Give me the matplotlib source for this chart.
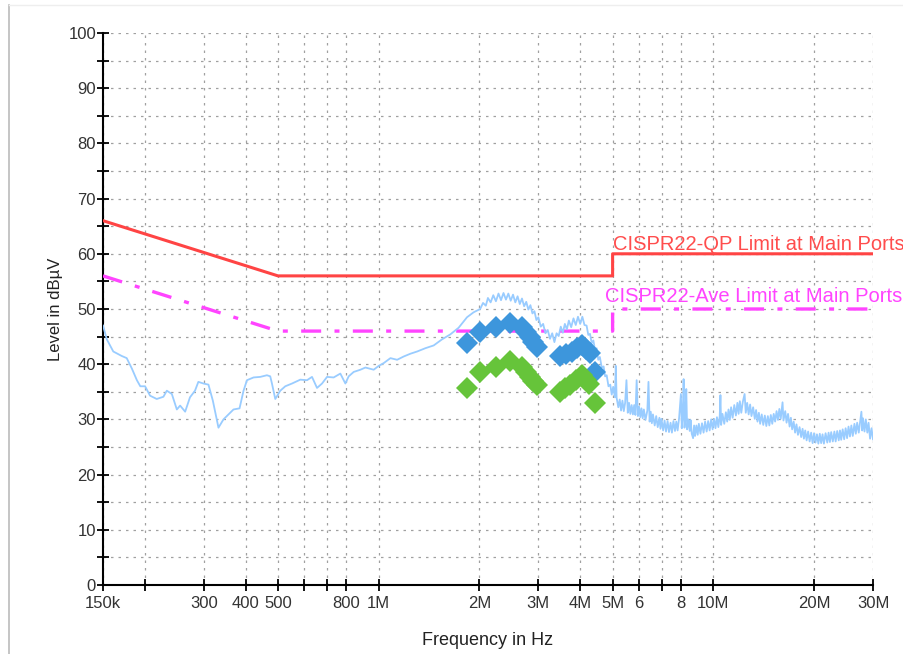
import matplotlib
matplotlib.use('Agg')
import matplotlib.pyplot as plt
from matplotlib.lines import Line2D
from matplotlib.ticker import NullLocator

plt.rcParams['font.family'] = ['Liberation Sans', 'DejaVu Sans']

# limit lines (MHz, dBuV)
qp_limit_freq = [0.15, 0.5, 5.0, 5.0, 30.0]
qp_limit_level = [66, 56, 56, 60, 60]
ave_limit_freq = [0.15, 0.5, 5.0, 5.0, 30.0]
ave_limit_level = [56, 46, 46, 50, 50]

# peak scan trace, (MHz, dBuV)
trace_low = [
    (0.150, 47.0), (0.154, 44.5), (0.161, 42.3), (0.1705, 41.5), (0.1766, 41.1),
    (0.183, 39.2), (0.1894, 37.1), (0.1939, 36.0), (0.2004, 36.0), (0.2073, 34.3),
    (0.2171, 33.7), (0.2273, 34.1), (0.2327, 35.2), (0.2409, 34.6), (0.2493, 31.8),
    (0.255, 32.5), (0.264, 31.4), (0.2729, 34.0), (0.2825, 35.2), (0.2891, 36.8),
    (0.2994, 36.5), (0.3099, 36.3), (0.3194, 33.4), (0.332, 28.5), (0.3436, 30.0),
    (0.3557, 30.9), (0.3682, 31.8), (0.3838, 32.0), (0.3945, 35.2), (0.4039, 37.1),
    (0.4227, 37.6), (0.4426, 37.7), (0.4634, 38.0), (0.4741, 37.8), (0.4797, 36.5),
    (0.4908, 33.7), (0.508, 35.2), (0.5258, 36.0), (0.5507, 36.5), (0.5831, 37.2),
    (0.6106, 37.1), (0.6319, 37.7), (0.6541, 35.7), (0.6771, 36.5), (0.7008, 37.7),
    (0.7335, 37.6), (0.768, 38.3), (0.795, 36.5), (0.8134, 37.8), (0.8419, 38.6),
    (0.8817, 39.0), (0.9126, 39.4), (0.9662, 39.0), (1.0001, 39.7), (1.0352, 40.2),
    (1.084, 41.1), (1.1351, 40.8), (1.1881, 41.4), (1.2441, 41.9), (1.3027, 42.3),
    (1.3791, 42.9), (1.46, 43.4), (1.5459, 44.5), (1.6366, 45.4), (1.733, 46.6),
    (1.8356, 48.5), (1.9209, 49.4),
]
trace_hump = [
    (2.01, 50.0), (2.05, 51.1), (2.09, 50.6), (2.12, 52.0), (2.16, 51.2),
    (2.2, 52.5), (2.24, 51.4), (2.28, 52.8), (2.32, 51.6), (2.36, 52.9),
    (2.4, 51.7), (2.44, 52.8), (2.48, 51.5), (2.52, 52.6), (2.56, 51.2),
    (2.6, 52.3), (2.64, 50.9), (2.68, 51.9), (2.72, 50.5), (2.76, 51.3),
    (2.8, 49.9), (2.84, 50.7), (2.88, 49.2), (2.92, 49.6), (2.96, 48.0),
    (3.0, 48.5), (3.05, 46.8), (3.1, 47.3), (3.15, 45.6), (3.2, 46.2),
    (3.25, 44.6), (3.3, 45.6), (3.35, 44.0), (3.4, 45.6), (3.45, 45.1),
    (3.5, 46.8), (3.55, 45.7), (3.6, 47.3), (3.65, 46.3), (3.7, 47.9),
    (3.76, 46.7), (3.82, 48.3), (3.88, 47.1), (3.94, 48.6), (4.0, 47.3),
    (4.06, 48.6), (4.12, 47.1), (4.18, 47.0), (4.23, 45.3), (4.28, 45.5),
    (4.33, 43.8), (4.38, 44.3), (4.43, 42.6), (4.48, 42.9), (4.53, 40.8),
    (4.58, 41.3), (4.64, 39.4), (4.7, 39.6), (4.75, 37.8), (4.8, 38.0),
    (4.86, 36.0), (4.92, 36.3), (4.97, 34.5), (5.02, 35.9), (5.08, 34.0),
    (5.11, 39.7),
]
trace_high = [
    (5.14, 33.9), (5.2, 32.2), (5.25, 33.6), (5.3, 31.6), (5.35, 33.4),
    (5.4, 31.5), (5.45, 33.0), (5.5, 37.1), (5.55, 31.2), (5.6, 33.0),
    (5.65, 31.0), (5.7, 32.6), (5.75, 30.9), (5.8, 32.6), (5.85, 30.8),
    (5.9, 37.1), (5.95, 30.6), (6.0, 32.3), (6.05, 30.4), (6.1, 32.0),
    (6.15, 30.2), (6.2, 31.8), (6.27, 29.9), (6.35, 31.6), (6.4, 36.8),
    (6.45, 29.6), (6.5, 31.4), (6.55, 29.3), (6.6, 30.9), (6.68, 28.9),
    (6.75, 30.6), (6.82, 28.6), (6.9, 30.3), (6.95, 28.3), (7.0, 30.1),
    (7.08, 28.0), (7.15, 29.8), (7.22, 27.8), (7.3, 29.7), (7.37, 27.7),
    (7.45, 29.4), (7.52, 27.6), (7.6, 29.7), (7.68, 27.9), (7.75, 29.6),
    (7.82, 28.0), (7.9, 30.2), (8.0, 34.6), (8.05, 28.4), (8.1, 30.4),
    (8.15, 37.3), (8.2, 28.5), (8.25, 30.4), (8.3, 35.5), (8.35, 28.2),
    (8.42, 30.0), (8.5, 27.9), (8.55, 29.9), (8.62, 27.4), (8.7, 26.6),
    (8.76, 28.9), (8.82, 27.0), (8.9, 28.9), (8.98, 27.2), (9.05, 29.2),
    (9.15, 27.4), (9.25, 29.3), (9.35, 27.6), (9.45, 29.6), (9.55, 27.8),
    (9.65, 29.7), (9.75, 28.0), (9.85, 30.0), (9.95, 28.2), (10.05, 30.1),
    (10.15, 28.4), (10.25, 30.4), (10.35, 28.6), (10.45, 30.6), (10.5, 34.4),
    (10.55, 29.0), (10.65, 31.0), (10.78, 29.2), (10.9, 31.3), (11.0, 29.6),
    (11.1, 31.8), (11.2, 29.9), (11.3, 32.2), (11.42, 30.3), (11.55, 32.6),
    (11.68, 30.7), (11.8, 33.0), (11.9, 31.0), (12.0, 33.3), (12.12, 31.2),
    (12.25, 33.2), (12.4, 34.6), (12.5, 31.2), (12.62, 33.0), (12.75, 30.9),
    (12.88, 32.7), (13.0, 30.6), (13.15, 32.2), (13.3, 30.1), (13.42, 31.7),
    (13.55, 29.6), (13.68, 31.2), (13.8, 29.2), (13.95, 30.9), (14.1, 29.0),
    (14.25, 30.7), (14.4, 28.8), (14.55, 30.6), (14.7, 28.9), (14.85, 30.8),
    (15.0, 29.2), (15.15, 31.0), (15.3, 29.6), (15.45, 31.5), (15.6, 29.9),
    (15.75, 31.9), (15.9, 30.1), (16.1, 33.1), (16.2, 29.8), (16.4, 31.5),
    (16.55, 29.4), (16.72, 31.0), (16.9, 28.7), (17.05, 30.3), (17.2, 28.2),
    (17.38, 29.6), (17.55, 27.6), (17.72, 29.1), (17.9, 27.2), (18.1, 28.6),
    (18.3, 26.8), (18.48, 28.3), (18.65, 26.5), (18.82, 28.0), (19.0, 26.2),
    (19.2, 27.8), (19.4, 26.0), (19.6, 27.6), (19.8, 25.7), (20.0, 27.5),
    (20.2, 25.8), (20.4, 27.3), (20.6, 25.6), (20.8, 27.4), (21.0, 25.7),
    (21.2, 27.3), (21.4, 25.6), (21.65, 27.5), (21.9, 25.8), (22.1, 27.6),
    (22.3, 25.9), (22.5, 27.7), (22.75, 26.0), (23.0, 27.8), (23.2, 26.0),
    (23.45, 27.9), (23.7, 26.2), (23.9, 28.0), (24.1, 26.3), (24.35, 28.2),
    (24.6, 26.4), (24.85, 28.4), (25.1, 26.6), (25.35, 28.7), (25.6, 26.9),
    (25.85, 28.9), (26.1, 27.0), (26.4, 29.2), (26.65, 27.4), (26.9, 29.4),
    (27.2, 27.6), (27.45, 29.5), (27.7, 31.4), (27.85, 28.0), (28.0, 30.2),
    (28.3, 27.8), (28.55, 30.0), (28.85, 27.6), (29.1, 29.4), (29.4, 26.5),
    (29.7, 28.4), (30.0, 26.4),
]

# final measurements
qp_freq = [1.83, 2.01, 2.24, 2.46, 2.68, 2.76, 2.83, 2.9, 2.98, 3.48, 3.63, 3.78, 3.92, 4.04, 4.16, 4.28, 4.43]
qp_level = [43.9, 45.9, 46.8, 47.4, 46.8, 45.9, 45.0, 44.1, 43.2, 41.4, 41.8, 42.3, 43.0, 43.5, 42.8, 42.0, 38.6]
av_freq = [1.83, 2.01, 2.24, 2.46, 2.68, 2.76, 2.83, 2.9, 2.98, 3.48, 3.6, 3.73, 3.9, 4.04, 4.15, 4.25, 4.43]
av_level = [35.6, 38.6, 39.5, 40.5, 39.5, 38.6, 37.7, 37.0, 36.2, 35.0, 35.6, 36.2, 37.1, 38.0, 37.2, 36.5, 32.9]

tick_freq = [0.15, 0.2, 0.3, 0.4, 0.5, 0.6, 0.7, 0.8, 1, 2, 3, 4, 5, 6, 7, 8, 10, 20, 30]
tick_labels = ['150k', '', '300', '400', '500', '', '', '800', '1M', '2M', '3M', '4M', '5M',
               '6', '', '8', '10M', '20M', '30M']

scan_freq, scan_level = zip(*(trace_low + trace_hump + trace_high))

fig = plt.figure(figsize=(9.04, 6.54), dpi=100)
ax = fig.add_axes([103 / 904, 69 / 654, 770 / 904, 552 / 654])

ax.plot(qp_limit_freq, qp_limit_level, color='#ff4444', lw=2.2, zorder=3)
ax.plot(ave_limit_freq, ave_limit_level, color='#ff44ff', lw=2.4,
        linestyle=(0, (6, 4, 1.5, 4)), zorder=3)
ax.plot(scan_freq, scan_level, color='#99ccff', lw=1.3, zorder=4)
ax.plot(qp_freq, qp_level, 'D', color='#3d96dc', markersize=11, markeredgewidth=0, zorder=5)
ax.plot(av_freq, av_level, 'D', color='#66c43a', markersize=11, markeredgewidth=0, zorder=5)

ax.text(5.0, 60.6, 'CISPR22-QP Limit at Main Ports', color='#ff4d4d', fontsize=14.5,
        ha='left', va='baseline', clip_on=False)
ax.text(4.75, 51.2, 'CISPR22-Ave Limit at Main Ports', color='#ff44ff', fontsize=14.5,
        ha='left', va='baseline', clip_on=False)

ax.set_xscale('log')
ax.set_xlim(0.15, 30)
ax.set_ylim(0, 100)
ax.set_xticks(tick_freq)
ax.set_xticklabels(tick_labels)
ax.xaxis.set_minor_locator(NullLocator())
ax.set_yticks(range(0, 101, 10))
ax.set_yticks(range(5, 100, 10), minor=True)

grid_style = dict(color='#a0a0a0', lw=0.9, linestyle=(0, (2, 4)))
ax.grid(axis='y', which='both', **grid_style)
ax.grid(axis='x', which='major', **grid_style)
ax.set_axisbelow(True)

for side in ['top', 'right']:
    ax.spines[side].set_visible(False)
for side in ['left', 'bottom']:
    ax.spines[side].set_linewidth(1.5)
    ax.spines[side].set_color('black')

ax.tick_params(which='both', direction='inout', length=8, width=1.3, color='black',
               labelcolor='#333333', labelsize=12)
ax.tick_params(axis='x', pad=4)
ax.tick_params(axis='y', pad=1)

ax.set_xlabel('Frequency in Hz', fontsize=13, color='#222222', labelpad=15)
ax.set_ylabel('Level in dBµV', fontsize=12, color='#222222', labelpad=4)

# page border
fig.add_artist(Line2D([9 / 904, 9 / 904], [0, 649 / 654], color='#bbbbbb', lw=1.2))
fig.add_artist(Line2D([9 / 904, 1], [649 / 654, 649 / 654], color='#eeeeee', lw=1))

fig.savefig('out.png', dpi=100)
